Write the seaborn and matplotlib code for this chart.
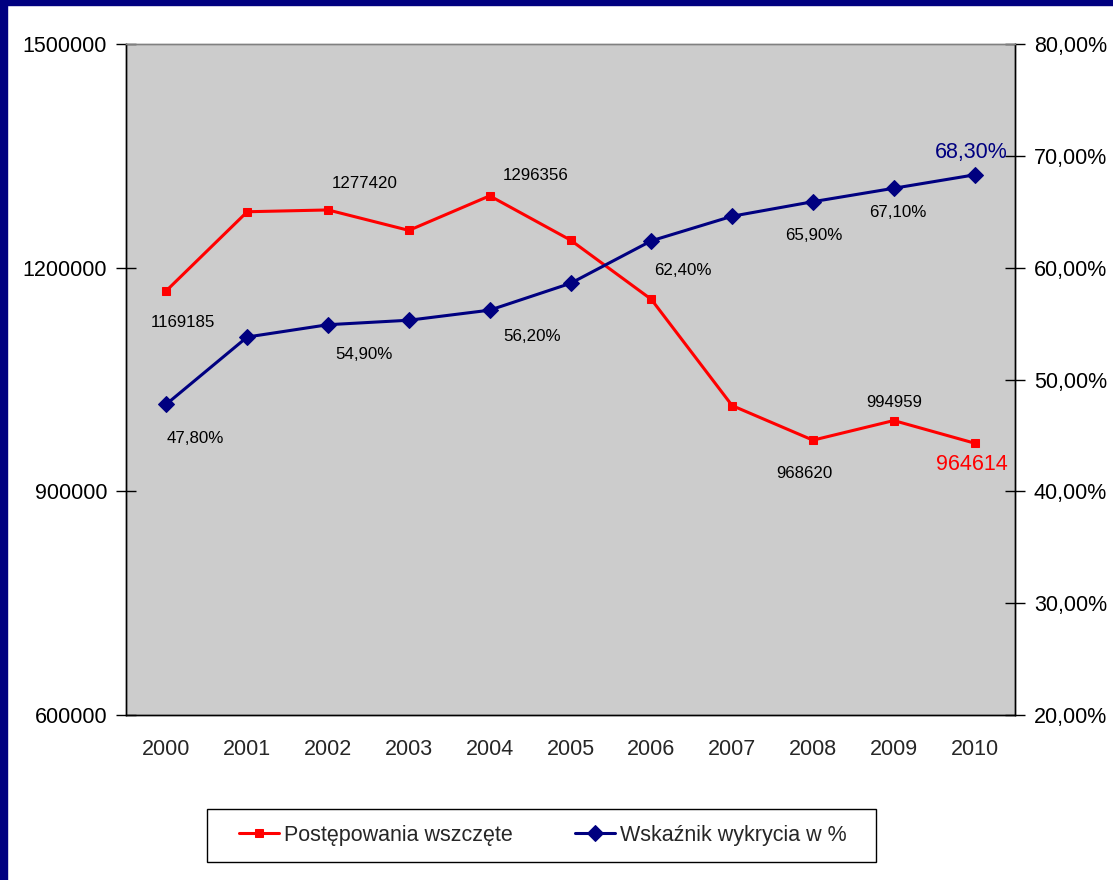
import matplotlib
matplotlib.use("Agg")
import matplotlib.pyplot as plt
from matplotlib.patches import Rectangle
import pandas as pd
import seaborn as sns

# =================== Dane ===================
years = ["2000", "2001", "2002", "2003", "2004", "2005",
         "2006", "2007", "2008", "2009", "2010"]
postepowania = [1169185, 1275000, 1277420, 1250000, 1296356, 1237000,
                1157500, 1015000, 968620, 994959, 964614]
wykrycie = [47.8, 53.8, 54.9, 55.3, 56.2, 58.6, 62.4, 64.6, 65.9, 67.1, 68.3]

left_ticks = [600000, 900000, 1200000, 1500000]
right_ticks = [20, 30, 40, 50, 60, 70, 80]

red_name = "Postępowania wszczęte"
blue_name = "Wskaźnik wykrycia w %"

# which points carry a label, and label offset in pixels (dx, dy; dy down)
red_label_offsets = {"2000": (17, 32), "2002": (37, -26), "2004": (46, -20),
                     "2008": (-9, 33), "2009": (0, -18), "2010": (-3, 21)}
blue_label_offsets = {"2000": (29, 34), "2002": (36, 30), "2004": (42, 26),
                      "2006": (32, 30), "2008": (1, 34), "2009": (4, 24),
                      "2010": (-3, -22)}

df = pd.DataFrame({"rok": years, "post": postepowania, "wsk": wykrycie})

# =================== Wykres ===================
sns.set_style("white")
plt.rcParams["font.family"] = ["Liberation Sans", "DejaVu Sans"]

W, H = 1113, 880
fig = plt.figure(figsize=(W / 100, H / 100), dpi=100)
fig.patch.set_facecolor("white")
ax = fig.add_axes([126 / W, 1 - 715 / H, (1015 - 126) / W, (715 - 44) / H])
ax.set_facecolor("#cccccc")

sns.lineplot(data=df, x="rok", y="post", ax=ax, color="#ff0000", lw=2.2,
             marker="s", markersize=6, markeredgecolor="#ff0000",
             label=red_name, legend=False)
ax2 = ax.twinx()
sns.lineplot(data=df, x="rok", y="wsk", ax=ax2, color="#000080", lw=2.2,
             marker="D", markersize=8, markeredgecolor="#000080",
             label=blue_name, legend=False)
for a in (ax, ax2):
    if a.get_legend() is not None:
        a.get_legend().remove()

ax.set_xlim(-0.5, len(years) - 0.5)
ax.set_ylim(600000, 1500000)
ax2.set_ylim(20, 80)

# osie
ax.set_yticks(left_ticks)
ax.yaxis.set_major_formatter(lambda v, p: f"{int(v)}")
ax.tick_params(axis="y", direction="inout", length=15, width=1, pad=6,
               labelsize=15.5, colors="black")
ax2.set_yticks(right_ticks)
ax2.yaxis.set_major_formatter(lambda v, p: f"{v:.2f}%".replace(".", ","))
ax2.tick_params(axis="y", direction="inout", length=15, width=1, pad=6,
                labelsize=15.5, colors="black")
ax.set_xticks(range(len(years)))
ax.set_xticklabels(years)
ax.set_xticks([i - 0.5 for i in range(len(years) + 1)], minor=True)
ax.tick_params(axis="x", which="major", length=0, pad=17, labelsize=15.5)
ax.tick_params(axis="x", which="minor", length=7, width=1, direction="out",
               color="black")
ax.set_xlabel("")
ax.set_ylabel("")
ax2.set_ylabel("")

for a in (ax, ax2):
    for s in a.spines.values():
        s.set_linewidth(1)
        s.set_color("black")
    a.spines["top"].set_color("#808080")

# etykiety danych
for yr, (dx, dy) in red_label_offsets.items():
    i = years.index(yr)
    v = postepowania[i]
    last = yr == years[-1]
    ax.annotate(f"{v}", (i, v), xytext=(dx * 0.72, -dy * 0.72),
                textcoords="offset points", ha="center", va="center",
                fontsize=15.5 if last else 12.2,
                color="#ff0000" if last else "black")
for yr, (dx, dy) in blue_label_offsets.items():
    i = years.index(yr)
    v = wykrycie[i]
    last = yr == years[-1]
    ax2.annotate(f"{v:.2f}%".replace(".", ","), (i, v),
                 xytext=(dx * 0.72, -dy * 0.72), textcoords="offset points",
                 ha="center", va="center", fontsize=15.5 if last else 12.2,
                 color="#000080" if last else "black")

# legenda
h1, l1 = ax.get_legend_handles_labels()
h2, l2 = ax2.get_legend_handles_labels()
fig.legend(h1 + h2, l1 + l2, loc="center",
           bbox_to_anchor=(543 / W, 1 - 835 / H), ncol=2, frameon=False,
           fontsize=15.5, handlelength=1.85, handletextpad=0.25,
           columnspacing=2.9, borderpad=0.6)
fig.add_artist(Rectangle((207 / W, 1 - 862 / H), (876 - 207) / W, 53 / H,
                         transform=fig.transFigure, facecolor="none",
                         edgecolor="black", lw=1))

# ramka granatowa
fig.add_artist(Rectangle((0, 0), 7 / W, 1, transform=fig.transFigure,
                         color="#000080", zorder=10))
fig.add_artist(Rectangle((0, 1 - 5 / H), 1, 5 / H, transform=fig.transFigure,
                         color="#000080", zorder=10))

fig.savefig("out.png", dpi=100)
